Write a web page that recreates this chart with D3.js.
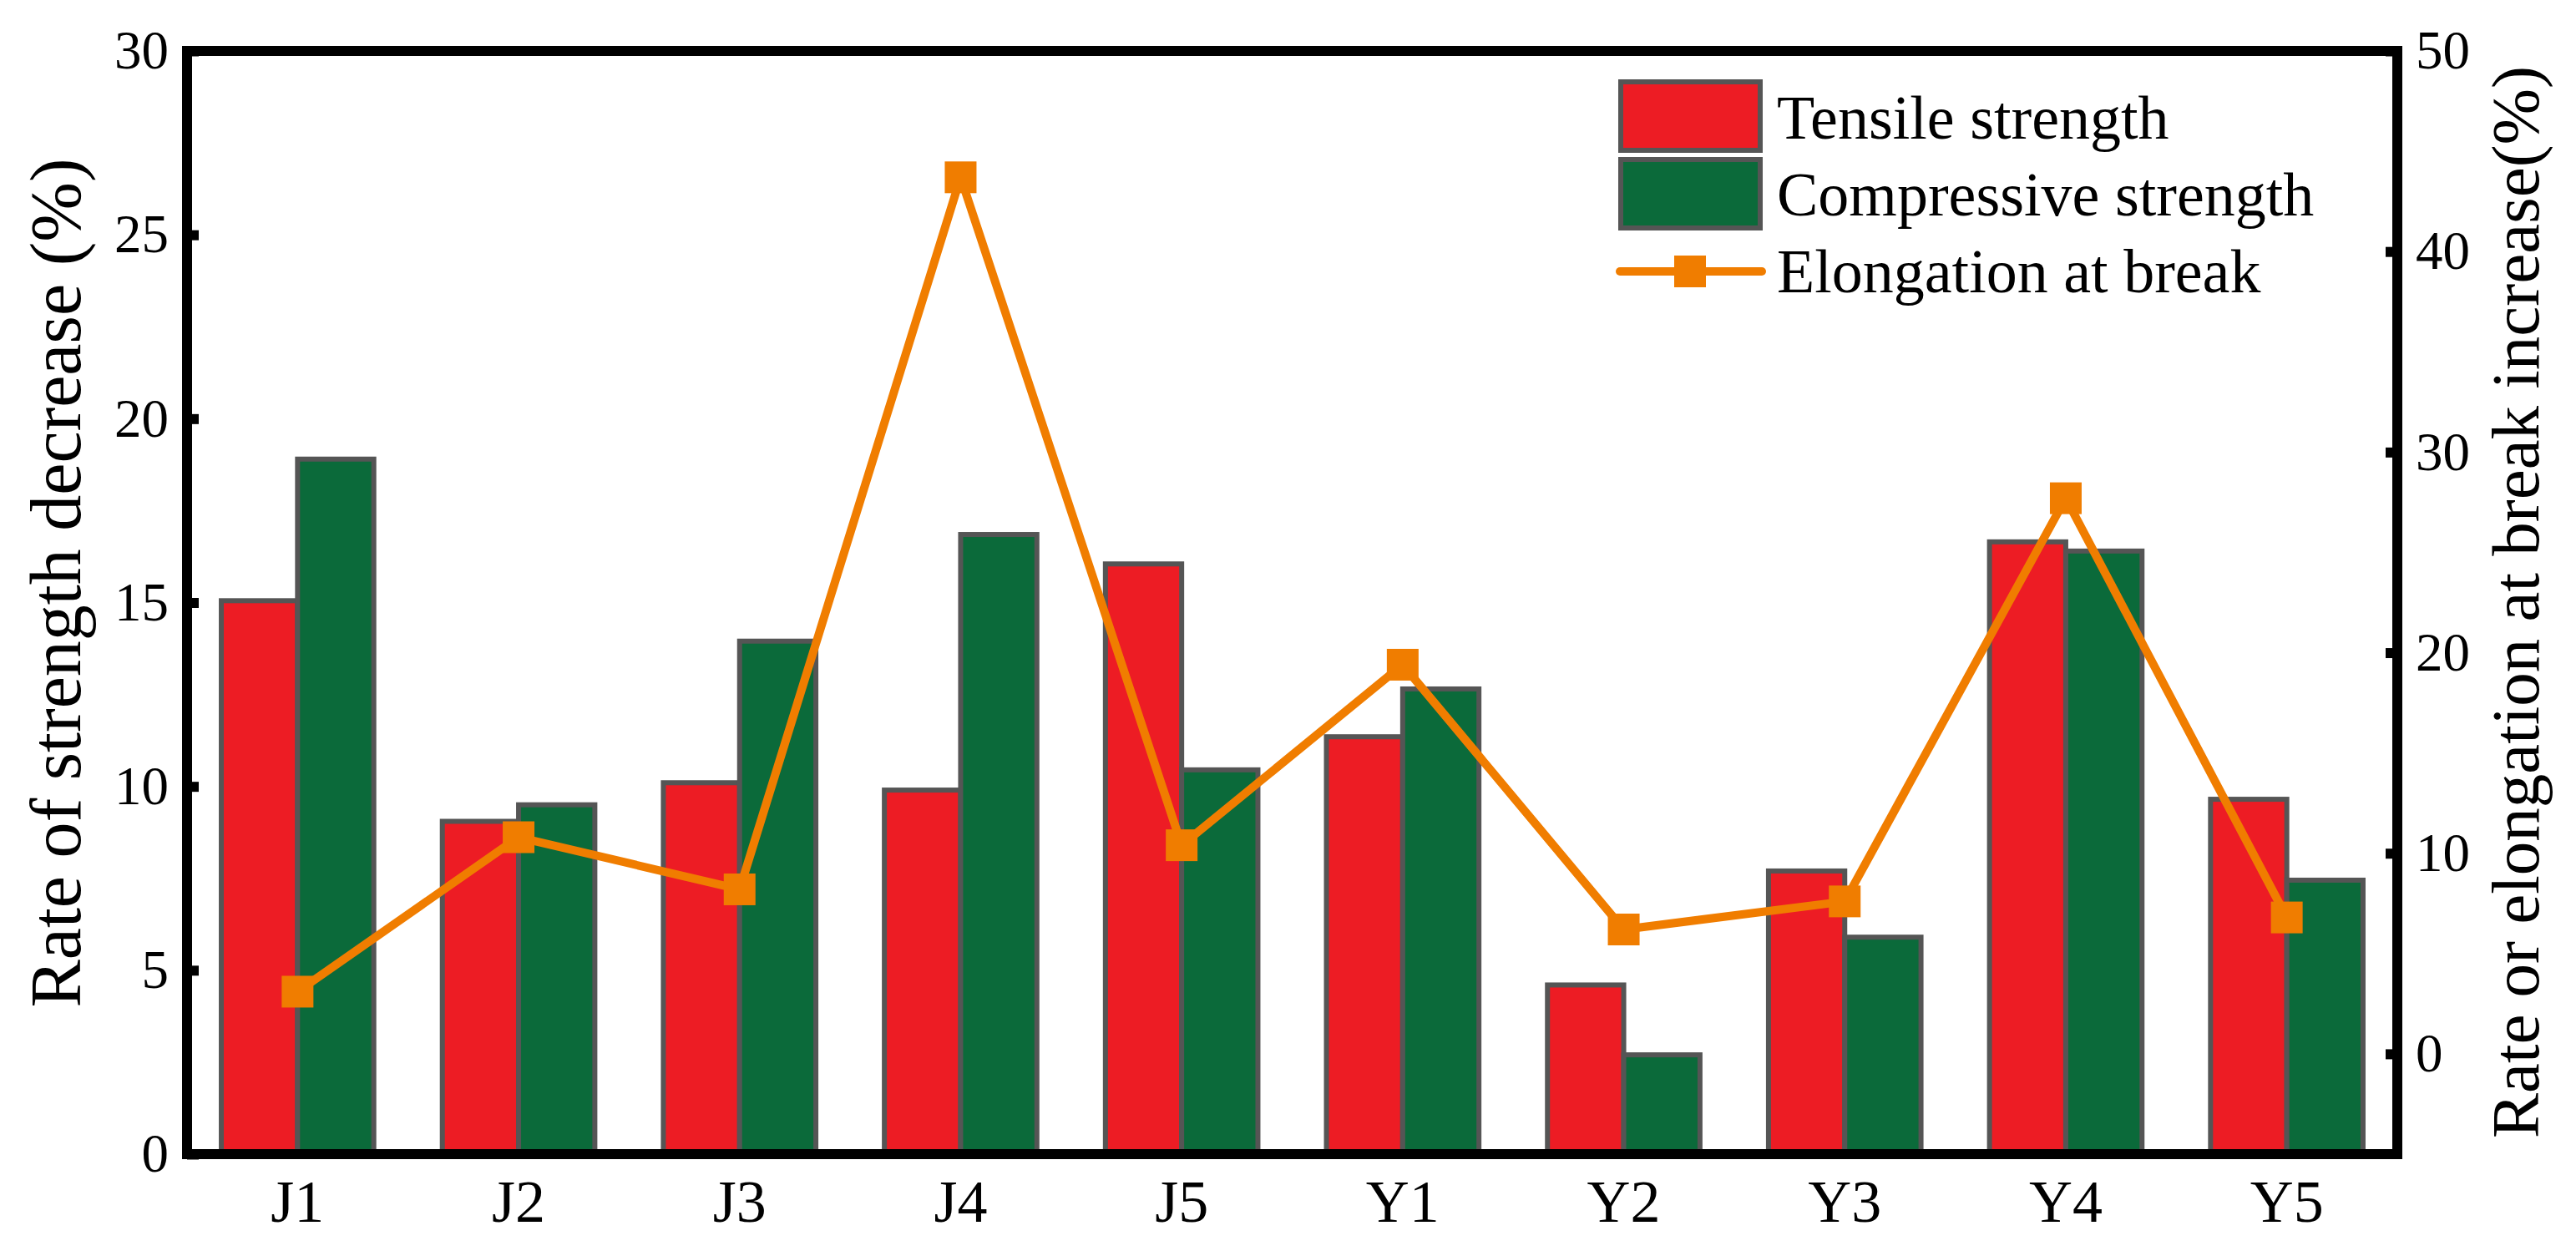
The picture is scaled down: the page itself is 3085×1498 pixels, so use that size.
<!DOCTYPE html>
<html>
<head>
<meta charset="utf-8">
<script src="https://cdn.jsdelivr.net/npm/d3@7"></script>
<style>
  body { margin: 0; background: #fff; }
</style>
</head>
<body>
<div id="chart"></div>
<script>
// Data
const samples = ["J1", "J2", "J3", "J4", "J5", "Y1", "Y2", "Y3", "Y4", "Y5"];
const tensile = [15.05, 9.05, 10.1, 9.9, 16.05, 11.35, 4.6, 7.7, 16.65, 9.65];
const compressive = [18.9, 9.5, 13.95, 16.85, 10.45, 12.65, 2.7, 5.9, 16.4, 7.45];
const elongation = [3.1, 10.8, 8.2, 43.7, 10.4, 19.4, 6.2, 7.6, 27.7, 6.8];
const leftTicks = [0, 5, 10, 15, 20, 25, 30];
const rightTicks = [0, 10, 20, 30, 40, 50];
const seriesNames = ["Tensile strength", "Compressive strength", "Elongation at break"];

const W = 3085, H = 1498;
const margin = { top: 61, right: 214, bottom: 116, left: 224 };
const width = W - margin.left - margin.right;
const height = H - margin.top - margin.bottom;

const serif = "Liberation Serif, Times New Roman, serif";
const red = "#ED1C24", green = "#0B6A3A", orange = "#F07D00", edge = "#555555";

const svg = d3.select("#chart").append("svg")
  .attr("width", W).attr("height", H)
  .attr("font-family", serif);
const g = svg.append("g").attr("transform", `translate(${margin.left},${margin.top})`);

// scales
const x0 = d3.scaleBand().domain(samples).range([0, width]).paddingInner(0.31).paddingOuter(0.155);
const x1 = d3.scaleBand().domain(["t", "c"]).range([0, x0.bandwidth()]);
const yL = d3.scaleLinear().domain([0, 30]).range([height, 0]);
const yR = d3.scaleLinear().domain([-5, 50]).range([height, 0]);

// bars
const groups = g.selectAll(".grp").data(samples).enter().append("g")
  .attr("transform", d => `translate(${x0(d)},0)`);
groups.append("rect")
  .attr("x", x1("t")).attr("width", x1.bandwidth())
  .attr("y", (d, i) => yL(tensile[i])).attr("height", (d, i) => height - yL(tensile[i]))
  .attr("fill", red).attr("stroke", edge).attr("stroke-width", 6);
groups.append("rect")
  .attr("x", x1("c")).attr("width", x1.bandwidth())
  .attr("y", (d, i) => yL(compressive[i])).attr("height", (d, i) => height - yL(compressive[i]))
  .attr("fill", green).attr("stroke", edge).attr("stroke-width", 6);

// line + markers
const cx = d => x0(d) + x0.bandwidth() / 2;
const line = d3.line().x((d, i) => cx(samples[i])).y(d => yR(d));
g.append("path").datum(elongation)
  .attr("d", line).attr("fill", "none")
  .attr("stroke", orange).attr("stroke-width", 10).attr("stroke-linejoin", "round");
const ms = 38;
g.selectAll(".mk").data(elongation).enter().append("rect")
  .attr("x", (d, i) => cx(samples[i]) - ms / 2).attr("y", d => yR(d) - ms / 2)
  .attr("width", ms).attr("height", ms).attr("fill", orange);

// frame
g.append("rect").attr("width", width).attr("height", height)
  .attr("fill", "none").attr("stroke", "#000").attr("stroke-width", 12);

// axes
const leftAxis = g.append("g")
  .call(d3.axisLeft(yL).tickValues(leftTicks).tickSize(-14).tickPadding(22));
const rightAxis = g.append("g").attr("transform", `translate(${width},0)`)
  .call(d3.axisRight(yR).tickValues(rightTicks).tickSize(-14).tickPadding(22));
const bottomAxis = g.append("g").attr("transform", `translate(0,${height})`)
  .call(d3.axisBottom(x0).tickSize(0).tickPadding(30));
[leftAxis, rightAxis, bottomAxis].forEach(a => {
  a.attr("font-family", serif);
  a.select(".domain").remove();
  a.selectAll(".tick line").attr("stroke", "#000").attr("stroke-width", 12);
  a.selectAll(".tick text").attr("font-size", 65)
    .attr("font-family", serif).attr("fill", "#000");
});
bottomAxis.selectAll(".tick text").attr("font-size", 72).attr("dy", "0.71em");

// axis titles
svg.append("text")
  .attr("transform", `translate(96,698) rotate(-90)`)
  .attr("text-anchor", "middle")
  .attr("font-family", serif).attr("font-size", 86).text("Rate of strength decrease (%)");
svg.append("text")
  .attr("transform", `translate(3040,721) rotate(-90)`)
  .attr("text-anchor", "middle")
  .attr("font-family", serif).attr("font-size", 81).text("Rate or elongation at break increase(%)");

// legend
const lg = svg.append("g").attr("transform", "translate(1938,95)");
const rowH = 93;
[red, green].forEach((c, i) => {
  lg.append("rect").attr("x", 3).attr("y", i * rowH + 3)
    .attr("width", 167).attr("height", 82)
    .attr("fill", c).attr("stroke", edge).attr("stroke-width", 6);
});
lg.append("line").attr("x1", 2).attr("x2", 172)
  .attr("y1", 230).attr("y2", 230)
  .attr("stroke", orange).attr("stroke-width", 10).attr("stroke-linecap", "round");
lg.append("rect").attr("x", 86 - ms / 2).attr("y", 230 - ms / 2)
  .attr("width", ms).attr("height", ms).attr("fill", orange);
const baselines = [71, 163, 255];
seriesNames.forEach((s, i) => {
  lg.append("text").attr("x", 190).attr("y", baselines[i])
    .attr("font-family", serif).attr("font-size", 74).text(s);
});
</script>
</body>
</html>
